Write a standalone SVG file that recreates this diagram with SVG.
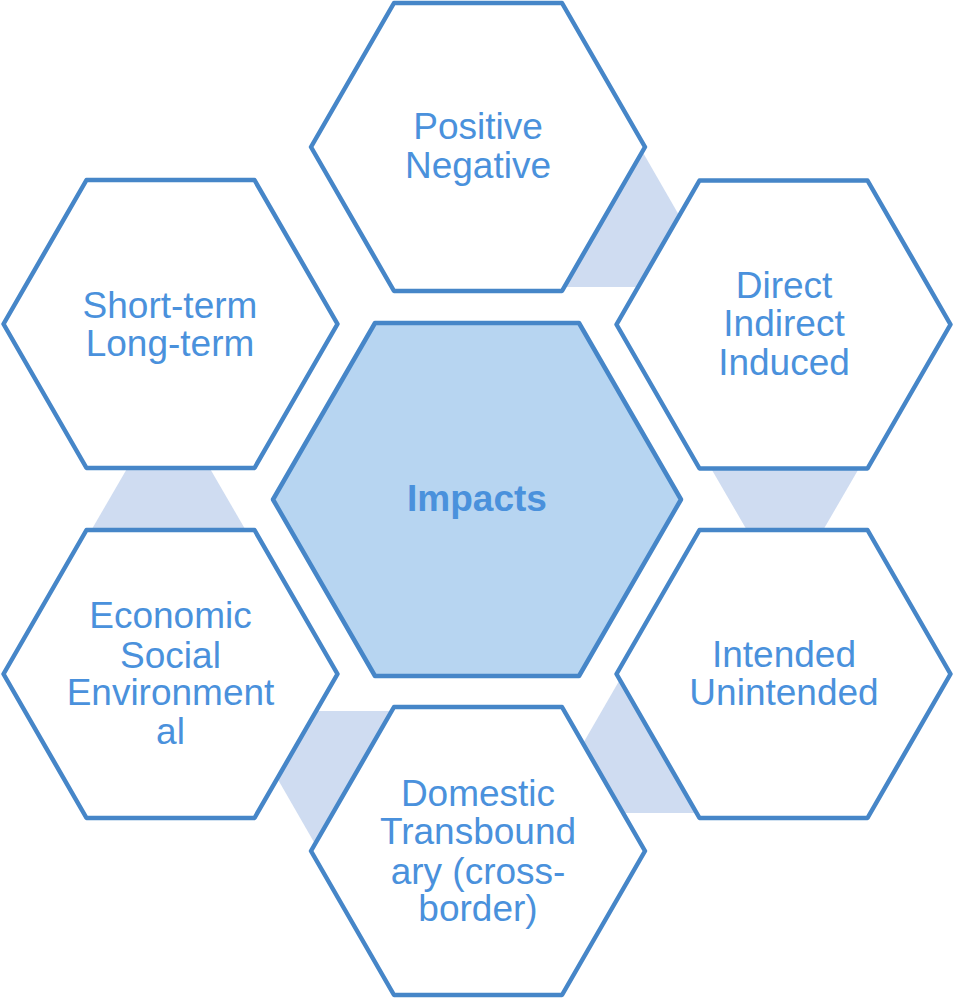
<svg xmlns="http://www.w3.org/2000/svg" width="953" height="999" viewBox="0 0 953 999">
<style>
.hex{fill:#FFFFFF;stroke:#4686C8;stroke-width:4.5;stroke-linejoin:round}
.core{fill:#B7D5F1;stroke:#4686C8;stroke-width:4.5;stroke-linejoin:round}
.con{fill:#CFDCF1;stroke:none}
.t{font-family:"Liberation Sans",Arial,sans-serif;font-size:37px;fill:#4A91DC;text-anchor:middle}
.b{font-weight:bold}
</style>
<g id="connectors">
<polygon class="con" points="630,130 720.3,287 540,287"/>
<polygon class="con" points="705,458 865,458 817.4,540 752.6,540"/>
<polygon class="con" points="630,662 570,766 600,813 720,813"/>
<polygon class="con" points="300,711 410,711 330,870 265,757"/>
<polygon class="con" points="132,460 205,460 251.4,540 85.6,540"/>
</g>
<g id="node-center">
<polygon class="core" points="273,499.5 375,323 579,323 681,499.5 579,676 375,676"/>
<text class="t b" x="477" y="511">Impacts</text>
</g>
<g id="node-top">
<polygon class="hex" points="311,147 394,3 562,3 645,147 562,291 394,291"/>
<text class="t" x="478" y="139">Positive</text>
<text class="t" x="478" y="177.5">Negative</text>
</g>
<g id="node-top-right">
<polygon class="hex" points="616.5,324.5 699.5,180.5 867.5,180.5 950.5,324.5 867.5,468.5 699.5,468.5"/>
<text class="t" x="784" y="297.5">Direct</text>
<text class="t" x="784" y="336">Indirect</text>
<text class="t" x="784" y="375">Induced</text>
</g>
<g id="node-bottom-right">
<polygon class="hex" points="616.5,674 699.5,530 867.5,530 950.5,674 867.5,818 699.5,818"/>
<text class="t" x="784" y="667">Intended</text>
<text class="t" x="784" y="705.3">Unintended</text>
</g>
<g id="node-bottom">
<polygon class="hex" points="311,851 394,707 562,707 645,851 562,995 394,995"/>
<text class="t" x="478" y="806">Domestic</text>
<text class="t" x="478" y="844.3">Transbound</text>
<text class="t" x="478" y="883.5">ary (cross-</text>
<text class="t" x="478" y="921">border)</text>
</g>
<g id="node-bottom-left">
<polygon class="hex" points="3.5,674 86.5,530 254.5,530 337.5,674 254.5,818 86.5,818"/>
<text class="t" x="170.5" y="628.3">Economic</text>
<text class="t" x="170.5" y="667.5">Social</text>
<text class="t" x="170.5" y="705.3">Environment</text>
<text class="t" x="170.5" y="744.3">al</text>
</g>
<g id="node-top-left">
<polygon class="hex" points="3.5,324 86.5,180 254.5,180 337.5,324 254.5,468 86.5,468"/>
<text class="t" x="170" y="317.5">Short-term</text>
<text class="t" x="170" y="356">Long-term</text>
</g>
</svg>
